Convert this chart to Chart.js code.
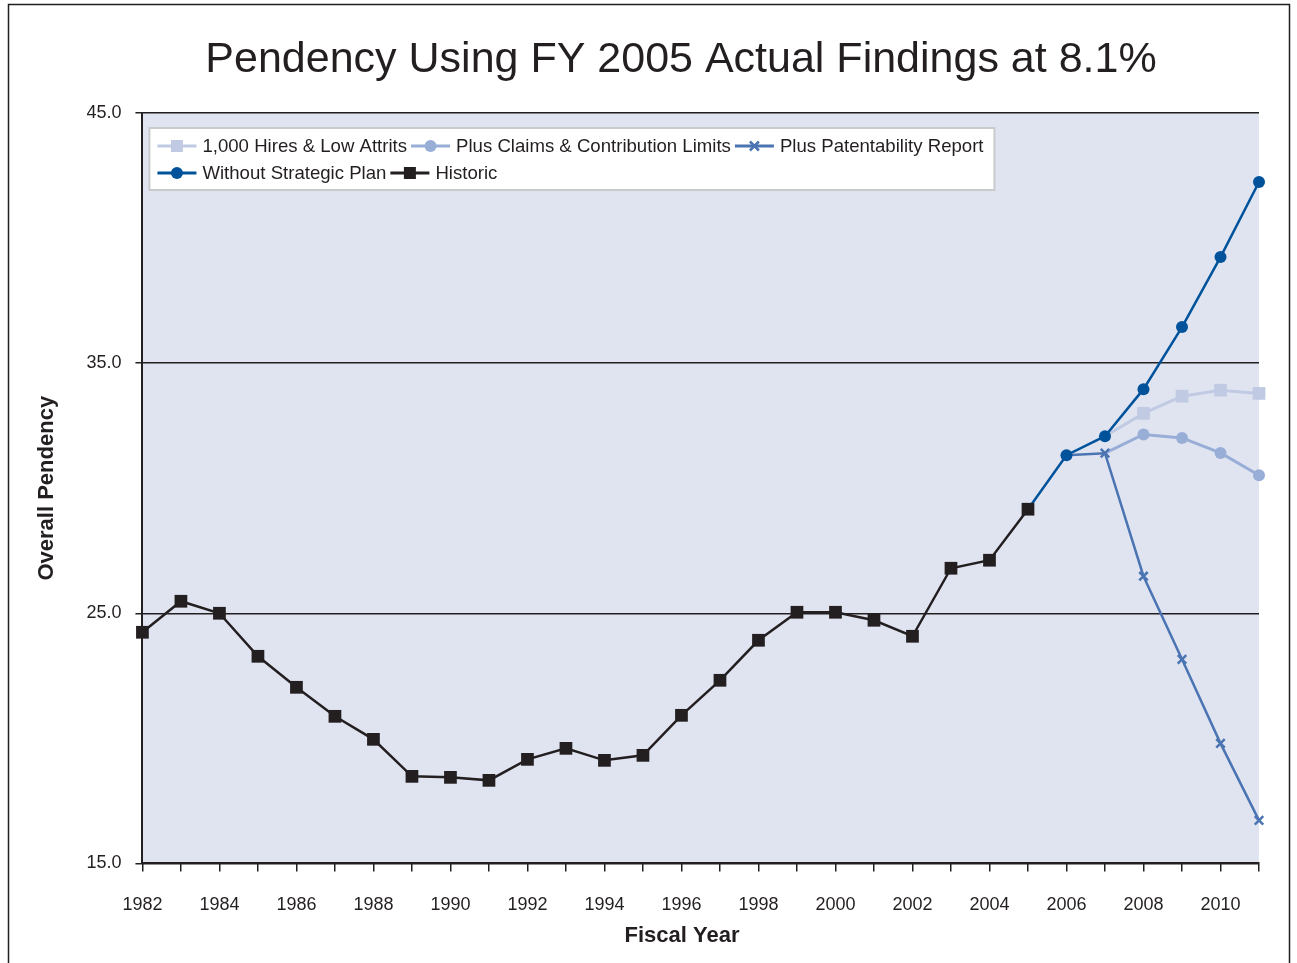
<!DOCTYPE html>
<html>
<head>
<meta charset="utf-8">
<script src="https://cdn.jsdelivr.net/npm/chart.js@4/dist/chart.umd.min.js"></script>
<style>
  html, body { margin: 0; padding: 0; background: #ffffff; }
  #wrap { position: relative; width: 1297px; height: 963px; }
  canvas { display: block; }
</style>
</head>
<body>
<div id="wrap"><canvas id="c" width="1297" height="963"></canvas></div>
<script>
// ---- Data ----
const titleText = 'Pendency Using FY 2005 Actual Findings at 8.1%';
const xTitle = 'Fiscal Year';
const yTitle = 'Overall Pendency';

const seriesNames = [
  '1,000 Hires & Low Attrits',
  'Plus Claims & Contribution Limits',
  'Plus Patentability Report',
  'Without Strategic Plan',
  'Historic'
];

const historicYears = [1982,1983,1984,1985,1986,1987,1988,1989,1990,1991,1992,1993,1994,1995,1996,1997,1998,1999,2000,2001,2002,2003,2004,2005];
const historicValues = [24.24,25.48,25.0,23.28,22.04,20.88,19.96,18.48,18.44,18.32,19.16,19.6,19.12,19.32,20.92,22.32,23.92,25.04,25.04,24.72,24.08,26.8,27.12,29.16];

const withoutYears = [2005,2006,2007,2008,2009,2010,2011];
const withoutValues = [29.16,31.32,32.08,33.96,36.44,39.24,42.24];

const patentYears = [2006,2007,2008,2009,2010,2011];
const patentValues = [31.32,31.4,26.48,23.16,19.8,16.72];

const claimsYears = [2007,2008,2009,2010,2011];
const claimsValues = [31.4,32.15,32.01,31.41,30.52];

const hiresYears = [2007,2008,2009,2010,2011];
const hiresValues = [32.08,32.99,33.68,33.92,33.79];

const xMin = 1982, xMax = 2011;
const yMin = 15, yMax = 45, yStep = 10;

// ---- Styling ----
const INK = '#231f20';
const FONT = "'Liberation Sans', Arial, Helvetica, sans-serif";
const colHires = '#c0cae3';
const colClaims = '#98aed7';
const colPatent = '#4a74b2';
const colWithout = '#00539b';
const colHist = '#231f20';
const plotBg = '#e0e4f1';

const pts = (xs, ys) => xs.map((x, i) => ({ x: x, y: ys[i] }));
const hideFirst = (r) => (ctx) => (ctx.dataIndex === 0 ? 0 : r);

const datasets = [
  { label: seriesNames[0], data: pts(hiresYears, hiresValues), borderColor: colHires, backgroundColor: colHires,
    borderWidth: 3, pointStyle: 'rect', pointRadius: hideFirst(9), pointBorderWidth: 0, order: 4, _mk: 'rect' },
  { label: seriesNames[1], data: pts(claimsYears, claimsValues), borderColor: colClaims, backgroundColor: colClaims,
    borderWidth: 3, pointStyle: 'circle', pointRadius: hideFirst(6), pointBorderWidth: 0, order: 3, _mk: 'circle' },
  { label: seriesNames[2], data: pts(patentYears, patentValues), borderColor: colPatent, backgroundColor: colPatent,
    borderWidth: 2.5, pointStyle: 'crossRot', pointRadius: hideFirst(6), pointBorderWidth: 2.5, order: 2, _mk: 'x' },
  { label: seriesNames[3], data: pts(withoutYears, withoutValues), borderColor: colWithout, backgroundColor: colWithout,
    borderWidth: 2.5, pointStyle: 'circle', pointRadius: hideFirst(6), pointBorderWidth: 0, order: 1, _mk: 'circle' },
  { label: seriesNames[4], data: pts(historicYears, historicValues), borderColor: colHist, backgroundColor: colHist,
    borderWidth: 2.5, pointStyle: 'rect', pointRadius: 9, pointBorderWidth: 0, order: 0, _mk: 'rect' }
];
datasets.forEach(d => { d.tension = 0; d.fill = false; d.clip = false; d.pointHoverRadius = d.pointRadius; });

// ---- Plugins ----
const frameAndBg = {
  id: 'frameAndBg',
  beforeDraw(chart) {
    const { ctx, chartArea: a } = chart;
    ctx.save();
    ctx.fillStyle = '#ffffff';
    ctx.fillRect(0, 0, chart.width, chart.height);
    ctx.fillStyle = plotBg;
    ctx.fillRect(a.left, a.top, a.right - a.left, a.bottom - a.top);
    ctx.strokeStyle = INK;
    ctx.lineWidth = 1.5;
    ctx.strokeRect(8.5, 4.5, 1281, 1100);
    // chart title and x-axis title
    ctx.fillStyle = INK;
    ctx.textAlign = 'center';
    ctx.textBaseline = 'middle';
    ctx.font = '43px ' + FONT;
    ctx.fillText(titleText, 681, 60);
    ctx.font = 'bold 22px ' + FONT;
    ctx.fillText(xTitle, 682, 936);
    ctx.restore();
  }
};

function drawMarker(ctx, kind, x, y, color) {
  ctx.save();
  ctx.fillStyle = color; ctx.strokeStyle = color;
  if (kind === 'rect') {
    ctx.fillRect(x - 6, y - 6, 12, 12);
  } else if (kind === 'circle') {
    ctx.beginPath(); ctx.arc(x, y, 6, 0, Math.PI * 2); ctx.fill();
  } else if (kind === 'x') {
    ctx.lineWidth = 2.5;
    ctx.beginPath();
    ctx.moveTo(x - 4.5, y - 4.5); ctx.lineTo(x + 4.5, y + 4.5);
    ctx.moveTo(x + 4.5, y - 4.5); ctx.lineTo(x - 4.5, y + 4.5);
    ctx.stroke();
  }
  ctx.restore();
}

const boxLegend = {
  id: 'boxLegend',
  afterDraw(chart) {
    const { ctx, chartArea: a } = chart;
    const ds = chart.data.datasets;
    const bx = a.left + 7, by = a.top + 15, bw = 845, bh = 62;
    ctx.save();
    ctx.fillStyle = '#ffffff';
    ctx.fillRect(bx, by, bw, bh);
    ctx.strokeStyle = '#c9cacc';
    ctx.lineWidth = 2;
    ctx.strokeRect(bx, by, bw, bh);
    ctx.font = '18.6px ' + FONT;
    ctx.textBaseline = 'middle';
    ctx.textAlign = 'left';
    const rows = [[0, 1, 2], [3, 4]];
    const rowY = [by + 18, by + 45];
    rows.forEach((row, ri) => {
      let x = bx + 8;
      const y = rowY[ri];
      row.forEach(i => {
        const d = ds[i];
        ctx.strokeStyle = d.borderColor;
        ctx.lineWidth = 3;
        ctx.beginPath(); ctx.moveTo(x, y); ctx.lineTo(x + 39, y); ctx.stroke();
        drawMarker(ctx, d._mk, x + 19.5, y, d.borderColor);
        x += 45;
        ctx.fillStyle = INK;
        ctx.fillText(d.label, x, y + 1);
        x += ctx.measureText(d.label).width + 4;
      });
    });
    ctx.restore();
  }
};

new Chart(document.getElementById('c'), {
  type: 'line',
  data: { datasets: datasets },
  plugins: [frameAndBg, boxLegend],
  options: {
    responsive: false,
    animation: false,
    events: [],
    layout: { padding: { top: 113, left: 30, right: 38, bottom: 24 } },
    plugins: {
      legend: { display: false },
      tooltip: { enabled: false },
      title: { display: false }
    },
    scales: {
      x: {
        type: 'linear',
        min: xMin, max: xMax,
        ticks: {
          stepSize: 1,
          autoSkip: false,
          maxRotation: 0,
          color: INK,
          padding: 23,
          font: { family: FONT, size: 18 },
          callback: (v) => (v % 2 === 0 ? String(v) : '')
        },
        grid: { drawOnChartArea: false, drawTicks: true, tickLength: 8, color: INK, lineWidth: 1.5 },
        border: { display: true, color: INK, width: 2 },
        title: { display: false }
      },
      y: {
        min: yMin, max: yMax,
        ticks: {
          stepSize: yStep,
          color: INK,
          padding: 14,
          font: { family: FONT, size: 18 },
          callback: (v) => Number(v).toFixed(1)
        },
        grid: { color: INK, lineWidth: 1.5, drawTicks: true, tickLength: 7 },
        border: { display: true, color: INK, width: 2 },
        title: { display: true, text: yTitle, color: INK, font: { family: FONT, size: 22, weight: 'bold' }, padding: { top: 4, bottom: 12 } }
      }
    }
  }
});
</script>
</body>
</html>
